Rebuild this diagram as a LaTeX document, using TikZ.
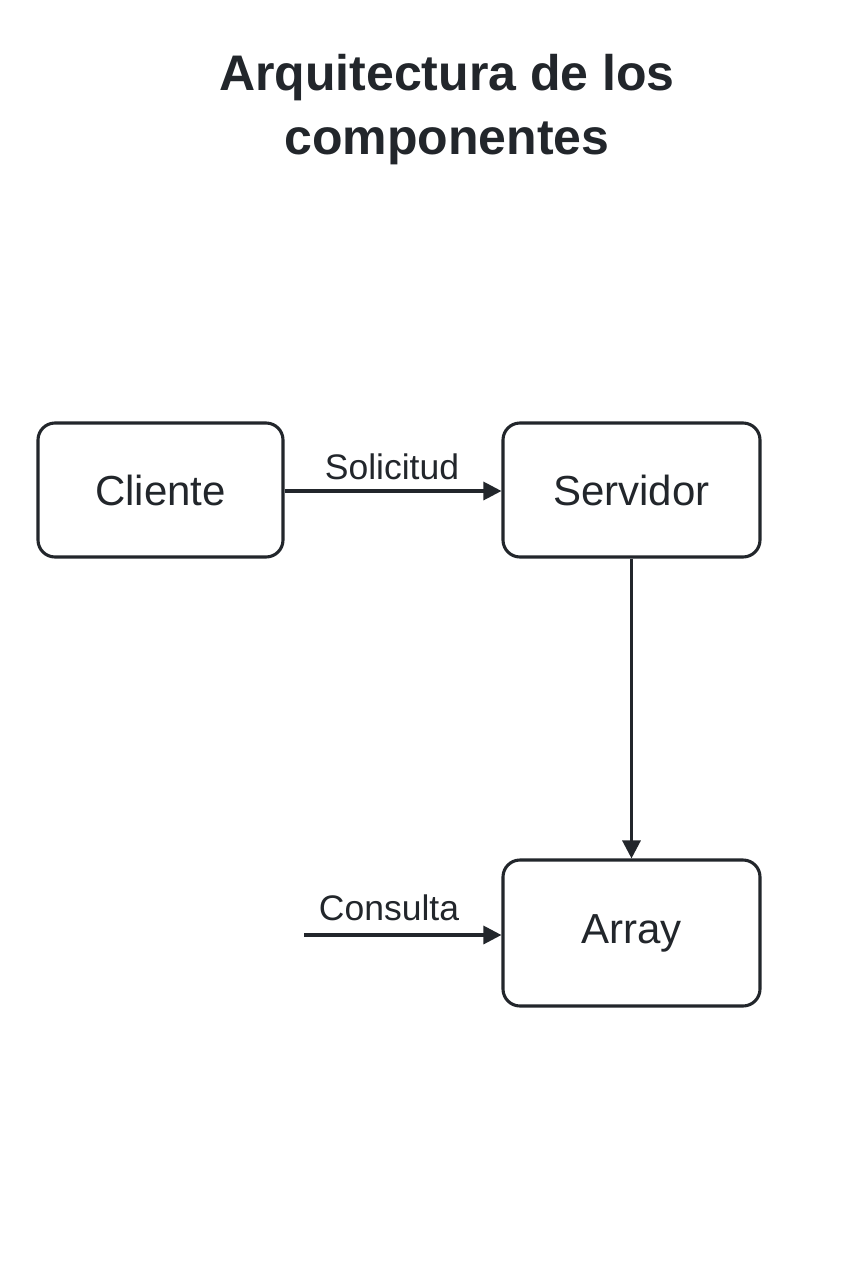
\documentclass[tikz,border=0pt]{standalone}
\usepackage{fontspec}
\setmainfont{Liberation Sans}
\usetikzlibrary{arrows.meta}
\definecolor{ink}{HTML}{22262B}
\tikzset{
  box/.style={draw=ink, line width=3.1pt, rounded corners=17pt, fill=white, text=ink, font=\fontsize{42}{50}\selectfont, inner sep=0pt},
  conn/.style={draw=ink, line width=3.1pt, -{Triangle[length=18pt,width=18pt]}},
  lbl/.style={text=ink, font=\fontsize{35.5}{42}\selectfont, inner sep=0pt},
}
\begin{document}
\begin{tikzpicture}[x=1pt,y=-1pt]
\useasboundingbox[fill=white] (0,0) rectangle (853,1280);
\node[text=ink, font=\bfseries\fontsize{50}{64}\selectfont, align=center, anchor=base] (title) at (447,154) {Arquitectura de los\\componentes};
\node[box, minimum width=245pt, minimum height=134pt] (cli) at (160.5,490) {Cliente};
\node[box, minimum width=257pt, minimum height=134pt] (srv) at (631.5,490) {Servidor};
\node[box, minimum width=257pt, minimum height=146pt] (arr) at (631.5,933) {Array};
\draw[conn] (cli.east |- 0,491) -- (srv.west |- 0,491);
\node[lbl] (sol) at (392,467) {Solicitud};
\draw[conn] (srv.south) -- (arr.north);
\coordinate (cin) at (304,935);
\draw[conn] (cin) -- (cin -| arr.west);
\node[lbl] (con) at (389,908) {Consulta};
\end{tikzpicture}
\end{document}
